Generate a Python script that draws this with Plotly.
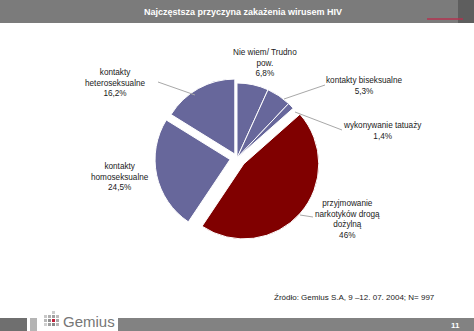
import plotly.graph_objects as go

W, H = 474, 331

categories = ["Nie wiem/ Trudno pow.", "kontakty biseksualne", "wykonywanie tatuaży",
              "przyjmowanie narkotyków drogą dożylną", "kontakty homoseksualne",
              "kontakty heteroseksualne"]
values = [6.8, 5.3, 1.4, 46.0, 24.5, 16.2]
value_labels = ["6,8%", "5,3%", "1,4%", "46%", "24,5%", "16,2%"]
label_texts = ["Nie wiem/ Trudno<br>pow.", "kontakty biseksualne", "wykonywanie tatuaży",
               "przyjmowanie<br>narkotyków drogą<br>dożylną", "kontakty<br>homoseksualne",
               "kontakty<br>heteroseksualne"]
title_text = "Najczęstsza przyczyna zakażenia wirusem HIV"
source_text = "Źródło: Gemius S.A, 9 –12. 07. 2004; N= 997"
page_number = "11"

SLATE = "#67679b"
RED = "#800000"
colors = [SLATE, SLATE, SLATE, RED, SLATE, SLATE]
pulls = [0, 0, 0, 0.12, 0.095, 0.06]


def px(x):
    return x / W


def py(y):
    return 1 - y / H


fig = go.Figure()
fig.add_trace(go.Pie(
    labels=categories, values=values, sort=False, direction="clockwise", rotation=0,
    marker=dict(colors=colors, line=dict(color="white", width=1)),
    pull=pulls, textinfo="none", hoverinfo="label+percent",
    domain=dict(x=[0.30, 0.70], y=[py(242), py(74)]),
    showlegend=False,
))

FONT = "Liberation Sans, Arial, sans-serif"
# label positions (pixel centers of the text blocks) and leader lines
label_pos = [(265, 63), (364, 86), (382, 131), (347, 219), (120, 177), (115, 83)]
leaders = [None, [(325, 85), (284, 99)], [(342, 130), (295, 112)], [(313, 217), (300, 215)],
           None, [(158, 82), (195, 95)]]

annotations = []
shapes = []
for txt, val, (x, y), ld in zip(label_texts, value_labels, label_pos, leaders):
    annotations.append(dict(
        x=px(x), y=py(y), xref="paper", yref="paper", xanchor="center", yanchor="middle",
        text=txt + "<br>" + val, showarrow=False, align="center",
        font=dict(family=FONT, size=8.2, color="#1a1a1a"),
    ))
    if ld:
        shapes.append(dict(type="line", xref="paper", yref="paper",
                           x0=px(ld[0][0]), y0=py(ld[0][1]), x1=px(ld[1][0]), y1=py(ld[1][1]),
                           line=dict(color="#a8a8a8", width=1)))

# header
shapes.append(dict(type="rect", xref="paper", yref="paper", x0=0, x1=1, y0=py(23), y1=1,
                   fillcolor="#7b7b7b", line=dict(width=0), layer="below"))
shapes.append(dict(type="rect", xref="paper", yref="paper", x0=px(458), x1=1, y0=py(23), y1=1,
                   fillcolor="#5e5e5e", line=dict(width=0), layer="below"))
shapes.append(dict(type="line", xref="paper", yref="paper", x0=px(427), x1=px(463),
                   y0=py(19), y1=py(19), line=dict(color="#b3324f", width=1.5)))
annotations.append(dict(x=px(243), y=py(12.5), xref="paper", yref="paper", xanchor="center",
                        yanchor="middle", text=title_text, showarrow=False,
                        font=dict(family=FONT, size=9, color="white", weight="bold")))

# footer
shapes.append(dict(type="rect", xref="paper", yref="paper", x0=0, x1=px(27), y0=0, y1=py(318),
                   fillcolor="#6f6f6f", line=dict(width=0)))
shapes.append(dict(type="rect", xref="paper", yref="paper", x0=px(30), x1=px(37), y0=0, y1=py(318),
                   fillcolor="#b4b4b4", line=dict(width=0)))
shapes.append(dict(type="rect", xref="paper", yref="paper", x0=px(118), x1=1, y0=0, y1=py(318),
                   fillcolor="#828282", line=dict(width=0)))
annotations.append(dict(x=px(455), y=py(325), xref="paper", yref="paper", xanchor="center",
                        yanchor="middle", text=page_number, showarrow=False,
                        font=dict(family=FONT, size=8, color="white", weight="bold")))
annotations.append(dict(x=px(354), y=py(297), xref="paper", yref="paper", xanchor="center",
                        yanchor="middle", text=source_text, showarrow=False,
                        font=dict(family=FONT, size=8, color="#222222")))

# logo squares
logo = [(44, 315, "#c8c8c8"), (48, 315, "#b0b0b0"), (52, 315, "#a0a0a0"),
        (44, 319, "#b8b8b8"), (48, 319, "#909090"), (52, 319, "#c0203a"), (56, 319, "#a8a8a8"),
        (44, 323, "#d0d0d0"), (48, 323, "#a0a0a0"), (52, 323, "#888888"), (56, 323, "#b8b8b8"),
        (52, 311, "#cccccc"), (56, 315, "#bcbcbc")]
for x, y, c in logo:
    shapes.append(dict(type="rect", xref="paper", yref="paper", x0=px(x), x1=px(x + 3),
                       y0=py(y + 3), y1=py(y), fillcolor=c, line=dict(width=0)))
annotations.append(dict(x=px(61), y=py(321), xref="paper", yref="paper", xanchor="left",
                        yanchor="middle", text="Gemius", showarrow=False,
                        font=dict(family=FONT, size=15, color="#767676")))

fig.update_layout(
    width=W, height=H, margin=dict(l=0, r=0, t=0, b=0),
    paper_bgcolor="white", plot_bgcolor="white",
    shapes=shapes, annotations=annotations,
)

fig.write_html("out.html")
